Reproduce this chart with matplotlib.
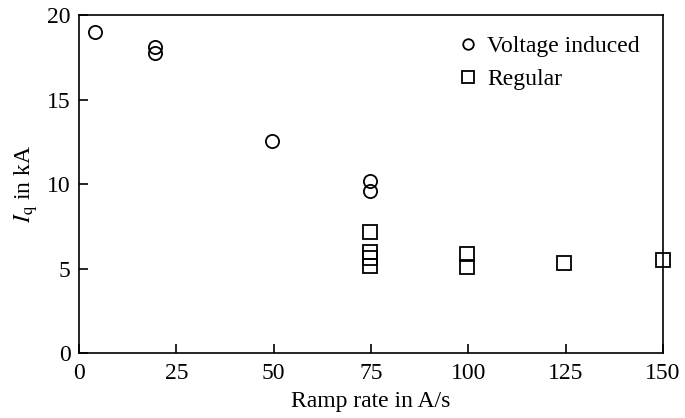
import matplotlib
matplotlib.use("Agg")
import matplotlib.pyplot as plt

plt.rcParams.update({
    "font.family": "serif",
    "font.serif": ["Liberation Serif", "DejaVu Serif"],
    "mathtext.fontset": "stix",
    "font.size": 17,
})

# voltage induced quenches
volt_rate = [4, 19.5, 19.5, 49.5, 74.8, 74.8]
volt_iq = [19.0, 18.1, 17.75, 12.55, 10.2, 9.6]

# regular quenches
reg_rate = [74.8, 74.8, 74.8, 74.8, 99.7, 99.7, 124.6, 150]
reg_iq = [7.15, 6.0, 5.6, 5.15, 5.85, 5.1, 5.35, 5.5]

fig = plt.figure(figsize=(6.85, 4.18), dpi=100)
ax = fig.add_axes([0.1153, 0.1555, 0.8527, 0.8085])

ax.plot(volt_rate, volt_iq, "o", ms=9.5, mfc="none", mec="black", mew=1.3,
        label="Voltage induced", clip_on=False)
ax.plot(reg_rate, reg_iq, "s", ms=10, mfc="none", mec="black", mew=1.3,
        label="Regular", clip_on=False)

ax.set_xlim(0, 150)
ax.set_ylim(0, 20)
ax.set_xticks([0, 25, 50, 75, 100, 125, 150])
ax.set_yticks([0, 5, 10, 15, 20])
ax.tick_params(direction="in", length=6.5, width=1.2, top=False, right=False)
ax.tick_params(axis="x", pad=7)
ax.tick_params(axis="y", pad=6)
for s in ax.spines.values():
    s.set_linewidth(1.2)

ax.set_xlabel("Ramp rate in A/s", labelpad=5)
ax.set_ylabel(r"$I_\mathrm{q}$ in kA", labelpad=5)

ax.legend(loc="upper right", frameon=False, handlelength=0.7, handletextpad=0.45,
          markerscale=0.8, borderaxespad=0.3, labelspacing=0.48,
          bbox_to_anchor=(0.988, 0.987))

fig.savefig("out.png", dpi=100)
